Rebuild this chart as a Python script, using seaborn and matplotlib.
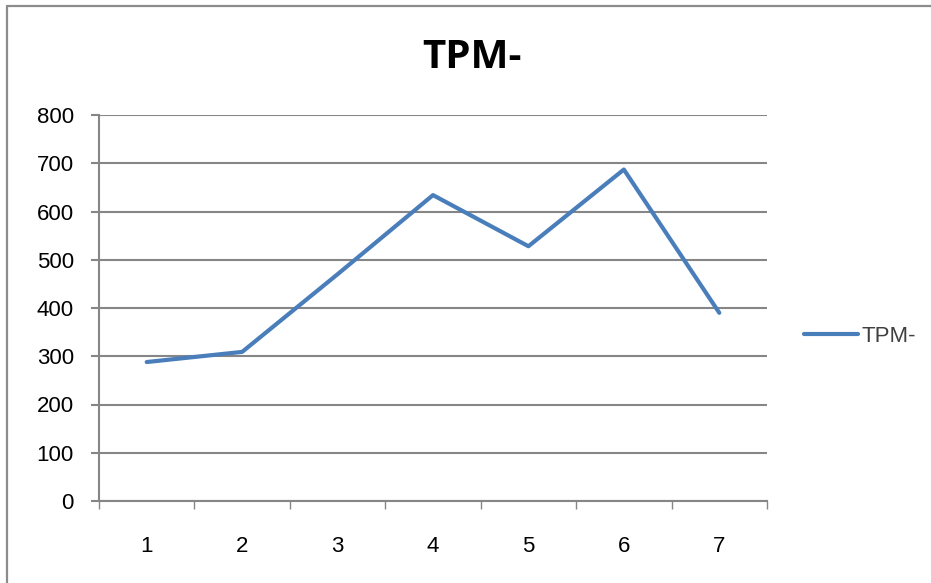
import pandas as pd
import numpy as np
import matplotlib
matplotlib.use("Agg")
import matplotlib.pyplot as plt
import seaborn as sns
from matplotlib.lines import Line2D

# values
categories = [1, 2, 3, 4, 5, 6, 7]
tpm_values = [288, 309, 470, 634, 528, 687, 390]
y_ticks = [0, 100, 200, 300, 400, 500, 600, 700, 800]
series_name = "TPM-"

df = pd.DataFrame({"x": categories, "TPM": tpm_values})

sns.set_style("white")
plt.rcParams["font.family"] = ["Liberation Sans", "DejaVu Sans"]

grid_col = "#868686"
line_col = "#4a7ebb"

fig = plt.figure(figsize=(9.31, 5.83), dpi=100)
ax = fig.add_axes([99 / 931, 82 / 583, 668 / 931, 386 / 583])

sns.lineplot(data=df, x="x", y="TPM", ax=ax, color=line_col, linewidth=3.0,
             label=series_name, legend=False)

ax.set_xlim(0.5, 7.5)
ax.set_ylim(0, 800)
ax.set_yticks(y_ticks)
ax.set_xticks(categories)
ax.set_xticks(np.arange(0.5, 8.0, 1.0), minor=True)
ax.set_xlabel("")
ax.set_ylabel("")

ax.yaxis.grid(True, color=grid_col, linewidth=1.5)
ax.set_axisbelow(True)
for s in ["top", "right"]:
    ax.spines[s].set_visible(False)
for s in ["left", "bottom"]:
    ax.spines[s].set_color(grid_col)
    ax.spines[s].set_linewidth(1.5)

ax.tick_params(axis="y", which="major", length=6, width=1.5, color=grid_col,
               direction="out", pad=12, labelsize=16, labelcolor="#000000", left=True)
ax.tick_params(axis="x", which="major", length=0, pad=25, labelsize=16,
               labelcolor="#000000", bottom=True)
ax.tick_params(axis="x", which="minor", length=6, width=1.0, color=grid_col,
               direction="out", bottom=True)

fig.text(472 / 931, 1 - 58 / 583, series_name, ha="center", va="center",
         fontsize=29, fontweight="bold", color="#000000",
         family=["Open Sans", "DejaVu Sans"])

handle = Line2D([], [], color=line_col, linewidth=3.0)
fig.legend([handle], [series_name], loc="center left",
           bbox_to_anchor=(784 / 931, 1 - 336 / 583), frameon=False,
           fontsize=16, handlelength=2.45, handletextpad=0.15,
           labelcolor="#404040")

# outer chart border (cropped on right and bottom in the reference)
fig.add_artist(Line2D([6.5 / 931, 6.5 / 931], [0, 1 - 5.5 / 583],
                      transform=fig.transFigure, color="#8c8c8c", linewidth=1.6))
fig.add_artist(Line2D([6.5 / 931, 1], [1 - 5.5 / 583, 1 - 5.5 / 583],
                      transform=fig.transFigure, color="#8c8c8c", linewidth=1.6))

fig.savefig("out.png", dpi=100, facecolor="white")
